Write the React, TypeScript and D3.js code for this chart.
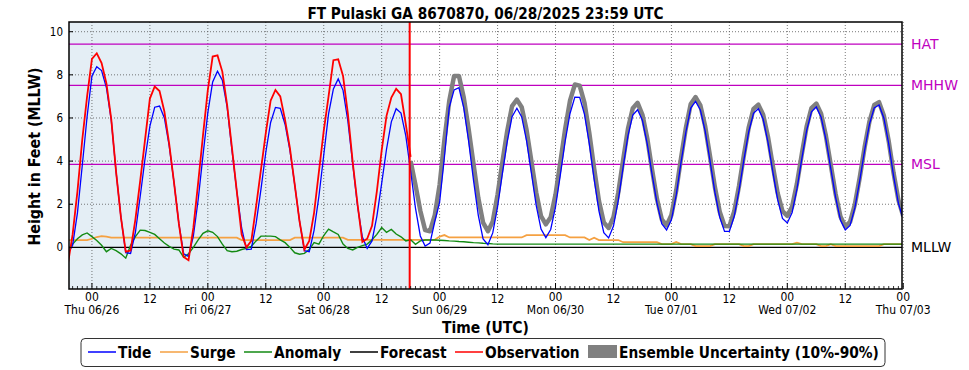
import React from 'react';
import * as d3 from 'd3';

// hours counted from 2025-06-26 00:00 UTC
const dataStartHour = -5;
const forecastStartHour = 66;
const nowHour = 65.8;

const tide = [
  -0.3, 0.1, 1.6, 3.81, 6.07, 7.95, 8.38, 8.2, 7.4, 5.9, 3.5, 1.4, -0.25, -0.28, 0.7, 2.37, 4.12, 5.62, 6.5, 6.55,
  6.0, 4.7, 3.0, 1.1, -0.3, -0.42, 0.52, 2.21, 4.28, 6.25, 7.67, 8.17, 7.75, 6.5, 4.5, 2.6, 0.9, -0.1, -0.08, 1.11,
  2.69, 4.4, 5.79, 6.49, 6.45, 5.7, 4.5, 2.9, 1.2, -0.15, -0.2, 0.79, 2.37, 4.27, 6.19, 7.35, 7.81, 7.28, 5.85, 3.88,
  1.92, 0.48, -0.05, 0.3, 1.44, 2.97, 4.55, 5.82, 6.43, 6.23, 5.17, 3.53, 1.82, 0.53, 0.06, 0.2, 1.2, 2.1, 4.2, 6.5,
  7.3, 7.4, 6.47, 4.94, 3.14, 1.5, 0.39, 0.12, 0.67, 1.88, 3.43, 4.9, 6.06, 6.45, 6.05, 4.95, 3.45, 1.95, 0.85, 0.45,
  0.83, 1.88, 3.36, 4.93, 6.21, 6.97, 6.96, 6.17, 4.8, 3.16, 1.68, 0.68, 0.44, 0.99, 2.18, 3.72, 5.17, 6.14, 6.38, 5.88,
  4.79, 3.38, 2.06, 1.1, 0.81, 1.28, 2.43, 3.95, 5.35, 6.46, 6.77, 6.37, 5.38, 4.0, 2.56, 1.4, 0.74, 0.74, 1.43, 2.63,
  4.05, 5.35, 6.22, 6.43, 5.94, 4.87, 3.5, 2.21, 1.34, 1.13, 1.62, 2.71, 4.1, 5.41, 6.29, 6.51, 6.04, 5.0, 3.66, 2.32,
  1.27, 0.81, 1.02, 1.84, 3.09, 4.49, 5.7, 6.47, 6.6, 5.99, 4.8, 3.32, 2.05, 1.3
];

const observation = [
  -0.8, 0.6, 2.6, 5.0, 7.0, 8.74, 9.0, 8.55, 7.6, 5.95, 3.5, 1.4, -0.2, -0.15, 1.3, 3.1, 5.0, 6.9, 7.46, 7.25,
  6.3, 4.8, 3.0, 1.1, -0.45, -0.6, 0.9, 3.0, 5.2, 7.3, 8.85, 8.9, 8.15, 6.6, 4.6, 2.6, 0.6, 0.0, 0.3, 1.9,
  3.6, 5.3, 6.8, 7.3, 7.0, 5.9, 4.6, 2.9, 1.2, -0.1, 0.3, 1.6, 3.5, 5.4, 7.0, 8.68, 8.72, 7.95, 6.2, 3.95,
  2.0, 0.25, 0.4, 1.0, 2.6, 4.5, 6.1, 6.95, 7.35, 7.1, 5.7, 4.2
];

const surge = [
  0.34, 0.34, 0.34, 0.34, 0.34, 0.4, 0.48, 0.52, 0.5, 0.45, 0.45, 0.45, 0.45, 0.45, 0.45, 0.45, 0.45, 0.45, 0.45, 0.45,
  0.45, 0.45, 0.45, 0.45, 0.45, 0.45, 0.45, 0.45, 0.45, 0.45, 0.45, 0.45, 0.45, 0.45, 0.45, 0.45, 0.34, 0.34, 0.34, 0.34,
  0.34, 0.34, 0.34, 0.34, 0.34, 0.34, 0.34, 0.45, 0.45, 0.45, 0.45, 0.45, 0.45, 0.45, 0.45, 0.45, 0.45, 0.45, 0.35, 0.35,
  0.35, 0.35, 0.35, 0.35, 0.35, 0.35, 0.35, 0.35, 0.35, 0.35, 0.35, 0.35, 0.35, 0.35, 0.35, 0.35, 0.35, 0.5, 0.57, 0.46,
  0.46, 0.46, 0.46, 0.46, 0.46, 0.46, 0.46, 0.46, 0.46, 0.46, 0.46, 0.46, 0.46, 0.46, 0.46, 0.57, 0.57, 0.57, 0.57, 0.57,
  0.57, 0.57, 0.57, 0.57, 0.46, 0.46, 0.46, 0.46, 0.34, 0.45, 0.34, 0.34, 0.34, 0.34, 0.34, 0.24, 0.24, 0.24, 0.24, 0.24,
  0.24, 0.24, 0.24, 0.15, 0.15, 0.15, 0.25, 0.15, 0.15, 0.15, 0.06, 0.06, 0.06, 0.06, 0.15, 0.15, 0.15, 0.15, 0.15, 0.15,
  0.06, 0.06, 0.15, 0.15, 0.15, 0.15, 0.15, 0.15, 0.15, 0.15, 0.15, 0.22, 0.15, 0.15, 0.15, 0.15, 0.06, 0.06, 0.15, 0.06,
  0.06, 0.06, 0.06, 0.06, 0.06, 0.06, 0.06, 0.06, 0.06, 0.15, 0.15, 0.15, 0.15, 0.15
];

const anomaly = [
  -0.12, 0.15, 0.4, 0.58, 0.67, 0.5, 0.32, 0.1, -0.2, -0.05, -0.15, -0.3, -0.5, 0.1, 0.5, 0.8, 0.78, 0.7, 0.6, 0.4,
  0.2, 0.05, -0.08, -0.12, -0.46, -0.3, 0.0, 0.35, 0.65, 0.77, 0.7, 0.5, 0.15, -0.15, -0.2, -0.18, -0.1, -0.05, 0.05, 0.3,
  0.52, 0.52, 0.52, 0.5, 0.35, 0.22, 0.0, -0.25, -0.32, -0.28, -0.1, 0.22, 0.15, 0.55, 0.85, 0.72, 0.6, 0.15, -0.05, -0.12,
  0.0, 0.08, 0.15, 0.35, 0.6, 0.92, 0.7, 0.83, 0.62, 0.49, 0.3, 0.35, 0.14, 0.3, 0.34, 0.34, 0.34, 0.33, 0.32, 0.3,
  0.29, 0.27, 0.26, 0.24, 0.22, 0.21, 0.19, 0.18, 0.16, 0.15, 0.15, 0.15, 0.15, 0.15, 0.15, 0.15, 0.15, 0.15, 0.15, 0.15,
  0.15, 0.15, 0.15, 0.15, 0.15, 0.15, 0.15, 0.15, 0.15, 0.15, 0.15, 0.15, 0.15, 0.15, 0.15, 0.15, 0.15, 0.15, 0.15, 0.15,
  0.15, 0.15, 0.15, 0.15, 0.15, 0.15, 0.15, 0.15, 0.15, 0.15, 0.15, 0.15, 0.15, 0.15, 0.15, 0.15, 0.15, 0.15, 0.15, 0.15,
  0.15, 0.15, 0.15, 0.15, 0.15, 0.15, 0.15, 0.15, 0.15, 0.15, 0.15, 0.15, 0.15, 0.15, 0.15, 0.15, 0.15, 0.15, 0.15, 0.15,
  0.15, 0.15, 0.15, 0.15, 0.15, 0.15, 0.15, 0.15, 0.15, 0.15, 0.15, 0.15, 0.15, 0.15
];

const forecast = [
  4.0, 2.9, 1.7, 0.8, 0.75, 1.5, 2.9, 5.0, 6.8, 7.95, 7.95, 6.95, 5.5, 3.9, 2.3, 1.15, 0.75, 1.2, 2.45, 3.95,
  5.4, 6.55, 6.85, 6.5, 5.45, 4.0, 2.55, 1.45, 1.07, 1.4, 2.45, 3.95, 5.5, 6.8, 7.55, 7.5, 6.7, 5.3, 3.65, 2.15,
  1.15, 0.9, 1.4, 2.55, 4.05, 5.5, 6.45, 6.7, 6.15, 5.05, 3.6, 2.25, 1.3, 1.02, 1.5, 2.65, 4.15, 5.55, 6.65, 6.97,
  6.58, 5.6, 4.22, 2.8, 1.65, 0.99, 0.98, 1.66, 2.85, 4.27, 5.55, 6.42, 6.62, 6.15, 5.12, 3.78, 2.52, 1.68, 1.46, 1.9,
  2.96, 4.32, 5.6, 6.46, 6.67, 6.2, 5.16, 3.82, 2.48, 1.43, 0.97, 1.18, 2.0, 3.24, 4.63, 5.83, 6.6, 6.73, 6.1, 4.92,
  3.45, 2.2, 1.45
];

const datums = [
  { name: 'HAT', value: 9.42, color: '#bf00bf' },
  { name: 'MHHW', value: 7.51, color: '#bf00bf' },
  { name: 'MSL', value: 3.85, color: '#bf00bf' },
  { name: 'MLLW', value: 0, color: '#000000' },
];

const yTicks = [0, 2, 4, 6, 8, 10];
const dayLabels = ['Thu 06/26', 'Fri 06/27', 'Sat 06/28', 'Sun 06/29', 'Mon 06/30', 'Tue 07/01', 'Wed 07/02', 'Thu 07/03'];

const legendItems = [
  { label: 'Tide', color: '#0000ff', x: 88 },
  { label: 'Surge', color: '#f5a142', x: 160 },
  { label: 'Anomaly', color: '#138a13', x: 244 },
  { label: 'Forecast', color: '#000000', x: 350 },
  { label: 'Observation', color: '#ff0000', x: 455 },
];

const W = 969, H = 370;
const margin = { top: 22, right: 67, bottom: 81, left: 69 };
const cond = "'DejaVu Sans Condensed', 'DejaVu Sans', sans-serif";

const hourToDate = (h: number) => new Date(Date.UTC(2025, 5, 26) + h * 3600000);

export default function App() {
  const x = d3.scaleUtc()
    .domain([hourToDate(-4.75), hourToDate(167.75)])
    .range([margin.left, W - margin.right]);
  const y = d3.scaleLinear().domain([-1.93, 10.45]).range([H - margin.bottom, margin.top]);
  const top = margin.top, bottom = H - margin.bottom, left = margin.left, right = W - margin.right;

  const toPts = (arr: number[], start: number) => arr.map((v, i) => ({ t: hourToDate(start + i), v }));
  const line = d3.line<{ t: Date; v: number }>().x(d => x(d.t)).y(d => y(d.v));

  const majorHours = d3.range(0, 169, 12);
  const minorHours = d3.range(-4, 168, 1).filter(h => h % 12 !== 0);
  const nowX = x(hourToDate(nowHour));

  return (
    <div style={{ position: 'absolute', left: 0, top: 0 }}>
      <svg width={W} height={H} style={{ display: 'block', background: '#fff' }}>
        <defs>
          <clipPath id="plot-clip">
            <rect x={left} y={top} width={right - left} height={bottom - top} />
          </clipPath>
        </defs>

        <text x={(left + right) / 2} y={18.5} textAnchor="middle" fontFamily={cond} fontStretch="condensed"
          fontWeight="bold" fontSize={15.2}>FT Pulaski GA 8670870, 06/28/2025 23:59 UTC</text>

        {/* observed period shading */}
        <rect x={left} y={top} width={nowX - left} height={bottom - top} fill="#e4eef5" />

        {/* grid */}
        {majorHours.map(h => (
          <line key={'gx' + h} x1={x(hourToDate(h))} x2={x(hourToDate(h))} y1={top} y2={bottom}
            stroke="#555" strokeWidth={0.8} strokeDasharray="1,2" />
        ))}
        {yTicks.filter(v => v !== 0).map(v => (
          <line key={'gy' + v} x1={left} x2={right} y1={y(v)} y2={y(v)}
            stroke="#555" strokeWidth={0.8} strokeDasharray="1,2" />
        ))}

        {/* datum lines */}
        {datums.map(d => (
          <g key={d.name}>
            <line x1={left} x2={right} y1={y(d.value)} y2={y(d.value)} stroke={d.color} strokeWidth={1.3} />
            <text x={right + 9} y={y(d.value)} dy="0.35em" fill={d.color} fontSize={14}
              fontFamily="'DejaVu Sans', sans-serif">{d.name}</text>
          </g>
        ))}

        <g clipPath="url(#plot-clip)" fill="none">
          <path d={line(toPts(forecast, forecastStartHour)) || ''} stroke="#000" strokeWidth={1} />
          <path d={line(toPts(forecast, forecastStartHour)) || ''} stroke="#808080" strokeWidth={4.5} strokeLinejoin="round" />
          <path d={line(toPts(surge, dataStartHour)) || ''} stroke="#f5a142" strokeWidth={1.8} />
          <path d={line(toPts(anomaly, dataStartHour)) || ''} stroke="#138a13" strokeWidth={1.4} />
          <path d={line(toPts(tide, dataStartHour)) || ''} stroke="#0000ff" strokeWidth={1.3} />
          <path d={line(toPts(observation, dataStartHour)) || ''} stroke="#ff0000" strokeWidth={1.8} />
        </g>

        <line x1={nowX} x2={nowX} y1={top} y2={bottom} stroke="#ff0000" strokeWidth={2} />

        {/* ticks */}
        {minorHours.map(h => (
          <line key={'mt' + h} x1={x(hourToDate(h))} x2={x(hourToDate(h))} y1={bottom} y2={bottom - 3} stroke="#000" strokeWidth={0.8} />
        ))}
        {majorHours.map(h => (
          <line key={'Mt' + h} x1={x(hourToDate(h))} x2={x(hourToDate(h))} y1={bottom} y2={bottom - 6} stroke="#000" strokeWidth={1} />
        ))}
        {yTicks.map(v => (
          <g key={'yt' + v}>
            <line x1={left} x2={left + 4} y1={y(v)} y2={y(v)} stroke="#000" />
            <text x={left - 6} y={y(v)} dy="0.35em" textAnchor="end" fontSize={11.5} fontFamily={cond} fontStretch="condensed">{v}</text>
          </g>
        ))}
        {majorHours.map((h, i) => (
          <g key={'xl' + h} fontFamily={cond} fontStretch="condensed" fontSize={12} textAnchor="middle">
            <text x={x(hourToDate(h))} y={h % 24 === 0 ? 301 : 303}>{h % 24 === 0 ? '00' : '12'}</text>
            {h % 24 === 0 && <text x={x(hourToDate(h))} y={313.5}>{dayLabels[i / 2]}</text>}
          </g>
        ))}

        <rect x={left} y={top} width={right - left} height={bottom - top} fill="none" stroke="#000" strokeWidth={1.5} />

        <text x={(left + right) / 2} y={332.5} textAnchor="middle" fontFamily={cond} fontStretch="condensed"
          fontWeight="bold" fontSize={15.5}>Time (UTC)</text>
        <text transform={`translate(40,${(top + bottom) / 2 + 1}) rotate(-90)`} textAnchor="middle" fontFamily={cond}
          fontStretch="condensed" fontWeight="bold" fontSize={15.8}>Height in Feet (MLLW)</text>

        {/* legend */}
        <rect x={81} y={338.5} width={804} height={28} rx={4} fill="#fff" stroke="#333" strokeWidth={1} />
        {legendItems.map(d => (
          <g key={d.label}>
            <line x1={d.x} x2={d.x + 28} y1={352} y2={352} stroke={d.color} strokeWidth={1.5} />
            <text x={d.x + 30} y={357.5} fontFamily={cond} fontStretch="condensed" fontWeight="bold" fontSize={15.3}>{d.label}</text>
          </g>
        ))}
        <rect x={588} y={345} width={29} height={13} fill="#808080" />
        <text x={619} y={357.5} fontFamily={cond} fontStretch="condensed" fontWeight="bold" fontSize={15.3}>Ensemble Uncertainty (10%-90%)</text>
      </svg>
    </div>
  );
}
